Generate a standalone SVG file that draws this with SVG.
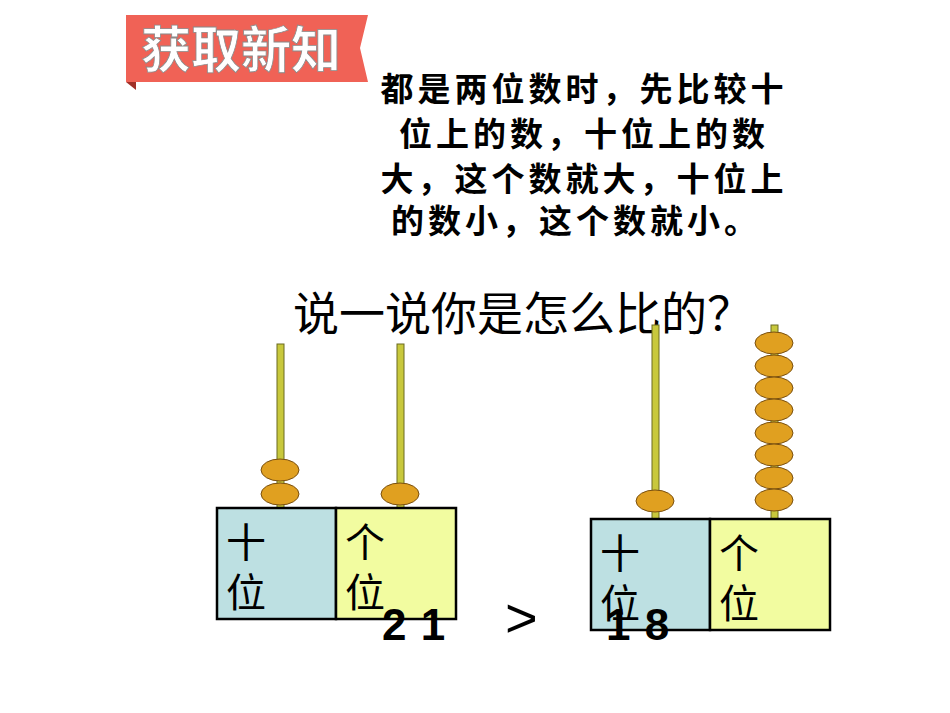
<svg xmlns="http://www.w3.org/2000/svg" width="950" height="713" viewBox="0 0 950 713">
<style>
.cjk{font-family:"Liberation Sans","Noto Sans CJK SC",sans-serif}
.rod{fill:#c8c83c;stroke:#6a6a20;stroke-width:1}
.bead{fill:#e0a020;stroke:#7a5010;stroke-width:1}
.ten{fill:#bde0e2;stroke:#000;stroke-width:2.5}
.one{fill:#f2fca0;stroke:#000;stroke-width:2.5}
.lab{font-size:40px;fill:#000;font-family:"Liberation Serif","Noto Sans CJK SC",serif}
.num{font-size:44px;font-weight:bold;font-family:"Liberation Sans",sans-serif;letter-spacing:1px}
</style>
<rect width="950" height="713" fill="#fff"/>
<g id="banner">
<polygon points="126,82 136,90 136,82" fill="#a03028"/>
<polygon points="126,15 368,15 360,48 368,82 126,82" fill="#f06256"/>
<text x="141" y="68" class="cjk" font-size="50" font-weight="bold" fill="#fff" stroke="#8a8a8a" stroke-width="0.8">获取新知</text>
</g>
<g id="rule" class="cjk" font-size="33" font-weight="bold" text-anchor="middle" letter-spacing="4">
<text x="584" y="101">都是两位数时，先比较十</text>
<text x="584" y="146">位上的数，十位上的数</text>
<text x="584" y="191">大，这个数就大，十位上</text>
<text x="576" y="233">的数小，这个数就小。</text>
</g>
<text id="question" x="293" y="330" class="cjk" font-size="46">说一说你是怎么比的？</text>
<g id="abacus21">
<rect class="rod" x="277" y="344" width="7" height="164"/>
<rect class="rod" x="397" y="344" width="7" height="164"/>
<ellipse class="bead" cx="280" cy="470" rx="19" ry="11"/>
<ellipse class="bead" cx="280" cy="494" rx="19" ry="11"/>
<ellipse class="bead" cx="400" cy="494" rx="19" ry="11"/>
<rect class="ten" x="217" y="508" width="119" height="111"/>
<rect class="one" x="336" y="508" width="120" height="111"/>
<text class="lab" x="226" y="557">十</text>
<text class="lab" x="226" y="607">位</text>
<text class="lab" x="345" y="557">个</text>
<text class="lab" x="345" y="607">位</text>
</g>
<g id="abacus18">
<rect class="rod" x="652" y="325" width="7" height="194"/>
<rect class="rod" x="771" y="325" width="7" height="194"/>
<ellipse class="bead" cx="655" cy="501" rx="19" ry="11"/>
<ellipse class="bead" cx="774" cy="343" rx="19" ry="11"/>
<ellipse class="bead" cx="774" cy="366" rx="19" ry="11"/>
<ellipse class="bead" cx="774" cy="388" rx="19" ry="11"/>
<ellipse class="bead" cx="774" cy="410" rx="19" ry="11"/>
<ellipse class="bead" cx="774" cy="433" rx="19" ry="11"/>
<ellipse class="bead" cx="774" cy="455" rx="19" ry="11"/>
<ellipse class="bead" cx="774" cy="478" rx="19" ry="11"/>
<ellipse class="bead" cx="774" cy="500" rx="19" ry="11"/>
<rect class="ten" x="591" y="519" width="119" height="111"/>
<rect class="one" x="710" y="519" width="120" height="111"/>
<text class="lab" x="600" y="568">十</text>
<text class="lab" x="600" y="618">位</text>
<text class="lab" x="719" y="568">个</text>
<text class="lab" x="719" y="618">位</text>
</g>
<g id="numbers">
<text class="num" x="382" y="640">2 1</text>
<text x="505" y="637" font-family="Liberation Sans,sans-serif" font-size="56">&gt;</text>
<text class="num" x="606" y="640">1 8</text>
</g>
</svg>
